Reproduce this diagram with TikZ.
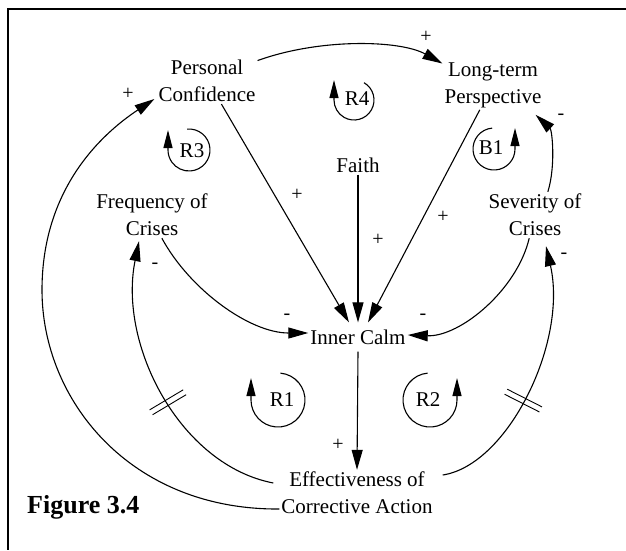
\documentclass[tikz,border=0pt]{standalone}
\usepackage{fontspec}
\setmainfont{Liberation Serif}
\usetikzlibrary{arrows.meta}
\begin{document}
\begin{tikzpicture}[x=1pt,y=-1pt,
  var/.style={font=\fontsize{21}{27}\selectfont, align=center, inner sep=2pt},
  sign/.style={font=\fontsize{20}{20}\selectfont, inner sep=0pt},
  link/.style={line width=1.1pt, -{Triangle[length=20pt,width=11pt]}},
  loopname/.style={font=\fontsize{21}{21}\selectfont, inner sep=0pt},
  looparc/.style={line width=1.1pt, -{Triangle[length=18pt,width=9pt]}},
  delaybox/.style={sloped, inner sep=0pt, minimum width=4.6pt, minimum height=38pt},
  delayline/.style={line width=0.9pt}
]
\useasboundingbox (0,0) rectangle (626,550);

% frame
\draw[line width=1.6pt] (626,9) -- (8,9) -- (8,550);

% variables
\node[var] (pc) at (207,81) {Personal\\Confidence};
\node[var] (ltp) at (493,85) {Long-term\\Perspective};
\node[var] (faith) at (358,165) {Faith};
\node[var] (fc) at (152,215) {Frequency of\\Crises};
\node[var] (sc) at (535,215) {Severity of\\Crises};
\node[var, inner ysep=7pt] (ic) at (358,337) {Inner Calm};
\node[var] (eff) at (357,493) {Effectiveness of\\Corrective Action};
\node[font=\bfseries\fontsize{26}{26}\selectfont, anchor=west, inner sep=0pt] (fig) at (27,507) {Figure 3.4};

% causal links
\draw[link] (pc.22) .. controls (320,38) and (400,40) .. (ltp.157);
\draw[link] (pc.-58) -- ([xshift=-9pt]ic.north);
\draw[link] (faith.south) -- (ic.north);
\draw[link] (ltp.-118) -- ([xshift=10pt]ic.north);
\draw[link] (fc.-67) .. controls (190,290) and (250,333) .. ([yshift=4pt]ic.west);
\draw[link] (sc.-104) .. controls (517,290) and (460,337) .. ([yshift=2pt]ic.east);
\draw[link] (sc.61) .. controls (556,165) and (552,130) .. ([xshift=-8pt,yshift=-5pt]ltp.south east);
\draw[link] (ic.south) -- (eff.north);
\draw[link] ([xshift=-6pt,yshift=10pt]eff.west)
  .. controls (180,465) and (118,345) .. ([xshift=-13pt,yshift=-3pt]fc.south)
  node[delaybox, pos=0.47] (dl) {};
\draw[link] ([xshift=8pt,yshift=18pt]eff.east)
  .. controls (508,465) and (568,342) .. ([xshift=11pt,yshift=-8pt]sc.south)
  node[delaybox, pos=0.47] (dr) {};
\draw[link] ([yshift=-16pt]eff.west) .. controls (130,510) and (42,400) .. (42,290)
  .. controls (42,190) and (100,135) .. ([xshift=-2pt,yshift=-18pt]pc.west);

% delay marks
\draw[delayline] (dl.north west) -- (dl.south west) (dl.north east) -- (dl.south east);
\draw[delayline] (dr.north west) -- (dr.south west) (dr.north east) -- (dr.south east);

% polarities
\node[sign] (p1) at (426,37) {+};
\node[sign] (p2) at (128,94) {+};
\node[sign] (p3) at (297,195) {+};
\node[sign] (p4) at (378,240) {+};
\node[sign] (p5) at (443,217) {+};
\node[sign] (p6) at (338,445) {+};
\node[sign] (m1) at (561,117) {-};
\node[sign] (m2) at (287,317) {-};
\node[sign] (m3) at (423,317) {-};
\node[sign] (m4) at (155,266) {-};
\node[sign] (m5) at (564,256) {-};

% loop identifiers
\draw[looparc] (189,150) ++(95:21pt) arc[start angle=95, end angle=-180, radius=21pt] -- ++(0,-20);
\node[loopname] (r3) at (192,151) {R3};
\draw[looparc] (354,100) ++(60:20pt) arc[start angle=60, end angle=-180, radius=20pt] -- ++(0,-20);
\node[loopname] (r4) at (357,99) {R4};
\draw[looparc] (494,149) ++(95:21pt) arc[start angle=95, end angle=360, radius=21pt] -- ++(0,-21);
\node[loopname] (b1) at (491,148) {B1};
\draw[looparc] (278,400) ++(85:27pt) arc[start angle=85, end angle=-180, radius=27pt] -- ++(0,-22);
\node[loopname] (r1) at (282,400) {R1};
\draw[looparc] (430,400) ++(95:27pt) arc[start angle=95, end angle=360, radius=27pt] -- ++(0,-22);
\node[loopname] (r2) at (428,400) {R2};
\end{tikzpicture}
\end{document}
